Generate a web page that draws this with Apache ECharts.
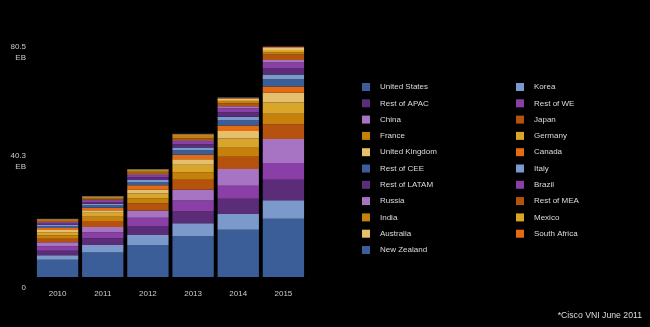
<!DOCTYPE html>
<html>
<head>
<meta charset="utf-8">
<style>
  html, body { margin: 0; padding: 0; background: #000; }
  #chart { width: 650px; height: 327px; }
</style>
<script src="https://cdn.jsdelivr.net/npm/echarts@6/dist/echarts.min.js"></script>
</head>
<body>
<div id="chart"></div>
<script>
  // years on the x axis
  var years = ['2010', '2011', '2012', '2013', '2014', '2015'];
  // y tick labels (EB per month)
  var yTicks = ['0', '40.3', '80.5'];

  // traffic per country, EB (bottom to top)
  var unitedStates = [6.0, 8.6, 11.2, 14.2, 16.5, 20.3];
  var korea = [1.6, 2.6, 3.5, 4.6, 5.5, 6.5];
  var restOfApac = [1.6, 2.3, 3.1, 4.1, 5.3, 7.2];
  var restOfWe = [1.5, 2.1, 2.9, 3.8, 4.6, 5.8];
  var china = [1.4, 1.9, 2.5, 3.8, 5.8, 8.4];
  var japan = [1.3, 2.1, 2.5, 3.5, 4.3, 5.1];
  var france = [1.2, 1.4, 1.8, 2.6, 3.1, 3.7];
  var germany = [1.0, 1.4, 1.7, 2.6, 3.3, 3.9];
  var unitedKingdom = [0.8, 0.9, 1.4, 1.9, 2.6, 3.5];
  var canada = [0.7, 0.9, 1.4, 1.6, 1.9, 2.1];
  var restOfCee = [0.7, 0.9, 1.2, 1.6, 1.9, 2.6];
  var italy = [0.35, 0.5, 0.7, 0.9, 1.2, 1.6];
  var restOfLatam = [0.45, 0.6, 0.9, 1.2, 1.5, 2.1];
  var brazil = [0.4, 0.5, 0.7, 0.9, 1.4, 2.1];
  var russia = [0.2, 0.25, 0.35, 0.5, 0.7, 0.9];
  var restOfMea = [0.35, 0.4, 0.6, 0.7, 1.0, 1.9];
  var india = [0.25, 0.3, 0.4, 0.5, 0.6, 0.7];
  var mexico = [0.2, 0.25, 0.35, 0.4, 0.6, 0.9];
  var australia = [0.15, 0.2, 0.3, 0.3, 0.5, 0.7];
  var southAfrica = [0.1, 0.1, 0.15, 0.2, 0.3, 0.3];
  var newZealand = [0.05, 0.05, 0.1, 0.1, 0.2, 0.2];

  var countries = [
    ['United States', unitedStates],
    ['Korea', korea],
    ['Rest of APAC', restOfApac],
    ['Rest of WE', restOfWe],
    ['China', china],
    ['Japan', japan],
    ['France', france],
    ['Germany', germany],
    ['United Kingdom', unitedKingdom],
    ['Canada', canada],
    ['Rest of CEE', restOfCee],
    ['Italy', italy],
    ['Rest of LATAM', restOfLatam],
    ['Brazil', brazil],
    ['Russia', russia],
    ['Rest of MEA', restOfMea],
    ['India', india],
    ['Mexico', mexico],
    ['Australia', australia],
    ['South Africa', southAfrica],
    ['New Zealand', newZealand]
  ];

  // 10 colour cycle
  var palette = ['#3b5e99', '#7b9acb', '#5b2d79', '#8a3fa6', '#a674c2',
                 '#b5530e', '#c8800c', '#d9a62b', '#e6bf6d', '#e56a12'];

  var leftNames = [], rightNames = [];
  var series = countries.map(function (c, i) {
    if (i % 2 == 0) leftNames.push(c[0]); else rightNames.push(c[0]);
    return {
      name: c[0],
      type: 'bar',
      stack: 'total',
      data: c[1],
      barCategoryGap: '8.5%',
      itemStyle: { color: palette[i % palette.length] }
    };
  });

  var legendBase = {
    orient: 'vertical',
    top: 78,
    itemWidth: 8,
    itemHeight: 8,
    itemGap: 8.3,
    icon: 'rect',
    selectedMode: false,
    textStyle: { color: '#dddddd', fontSize: 8, fontFamily: 'Liberation Sans', padding: [0, 0, 0, 5] }
  };

  var chart = echarts.init(document.getElementById('chart'));
  chart.setOption({
    backgroundColor: '#000',
    animation: false,
    color: palette,
    grid: { left: 35, right: 344, top: 46.5, bottom: 50 },
    legend: [
      Object.assign({ left: 357, data: leftNames }, legendBase),
      Object.assign({ left: 511, data: rightNames }, legendBase)
    ],
    xAxis: {
      type: 'category',
      data: years,
      axisLine: { show: false },
      axisTick: { show: false },
      axisLabel: { color: '#cccccc', fontSize: 8, fontFamily: 'Liberation Sans', margin: 13 }
    },
    yAxis: {
      type: 'value',
      min: 0,
      max: 80.5,
      interval: 40.25,
      splitLine: { show: false },
      axisLine: { show: false },
      axisTick: { show: false },
      axisLabel: {
        color: '#cccccc',
        fontSize: 8,
        fontFamily: 'Liberation Sans',
        margin: 9,
        lineHeight: 11,
        formatter: function (v, idx) {
          if (idx == 0) return ' \n\n' + yTicks[0];
          if (idx == yTicks.length - 1) return ' \n' + yTicks[idx] + '\nEB';
          return yTicks[idx] + '\nEB';
        }
      }
    },
    graphic: [{
      type: 'text',
      right: 8,
      top: 311,
      style: { text: '*Cisco VNI June 2011', fill: '#dddddd', fontSize: 8.7, fontFamily: 'Liberation Sans' }
    }],
    series: series
  });
</script>
</body>
</html>
